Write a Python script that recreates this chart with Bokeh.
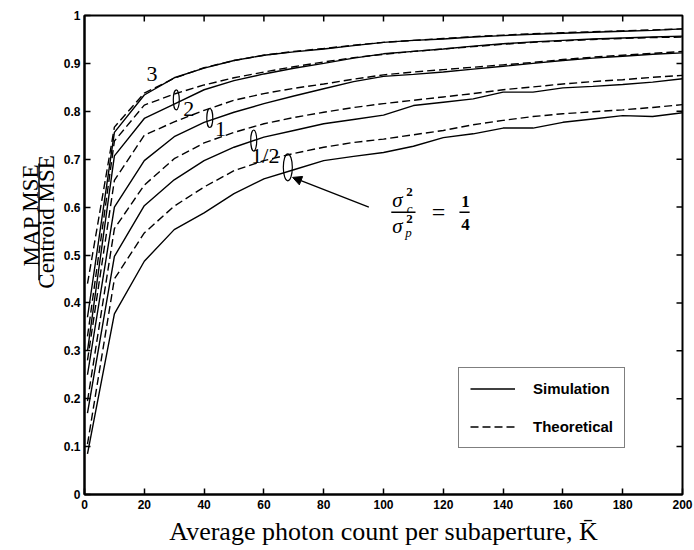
from bokeh.plotting import figure
from bokeh.layouts import row
from bokeh.models import (Label, Legend, LegendItem, FixedTicker, NumeralTickFormatter,
                          Arrow, NormalHead, Range1d)
from bokeh.embed import file_html
from bokeh.resources import INLINE

# ---------------- data ----------------
K = [1, 10, 20, 30, 40, 50, 60, 70, 80, 90, 100, 110, 120, 130, 140, 150, 160, 170, 180, 190, 200]

sim_quarter = [0.085, 0.377, 0.487, 0.553, 0.588, 0.628, 0.659, 0.678, 0.697, 0.706, 0.714,
               0.727, 0.745, 0.753, 0.765, 0.765, 0.777, 0.784, 0.791, 0.789, 0.797]
th_quarter = [0.105, 0.450, 0.546, 0.602, 0.642, 0.676, 0.697, 0.712, 0.725, 0.735, 0.742,
              0.751, 0.760, 0.772, 0.781, 0.789, 0.795, 0.799, 0.803, 0.808, 0.814]
sim_half = [0.170, 0.497, 0.603, 0.657, 0.697, 0.725, 0.746, 0.760, 0.774, 0.783, 0.792,
            0.812, 0.819, 0.826, 0.840, 0.840, 0.849, 0.852, 0.856, 0.861, 0.868]
th_half = [0.195, 0.555, 0.646, 0.701, 0.734, 0.756, 0.774, 0.787, 0.798, 0.808, 0.816,
           0.823, 0.830, 0.837, 0.845, 0.851, 0.857, 0.862, 0.866, 0.871, 0.875]
sim_one = [0.250, 0.600, 0.697, 0.747, 0.777, 0.798, 0.816, 0.832, 0.847, 0.862, 0.873,
           0.877, 0.882, 0.888, 0.894, 0.900, 0.906, 0.911, 0.915, 0.919, 0.922]
th_one = [0.280, 0.656, 0.750, 0.778, 0.802, 0.823, 0.837, 0.848, 0.857, 0.867, 0.876,
          0.882, 0.887, 0.892, 0.897, 0.902, 0.908, 0.913, 0.917, 0.921, 0.925]
sim_two = [0.300, 0.707, 0.785, 0.815, 0.845, 0.864, 0.878, 0.890, 0.900, 0.911, 0.920,
           0.925, 0.930, 0.936, 0.941, 0.945, 0.948, 0.951, 0.953, 0.955, 0.957]
th_two = [0.330, 0.738, 0.813, 0.836, 0.855, 0.870, 0.882, 0.893, 0.903, 0.912, 0.919,
          0.925, 0.930, 0.935, 0.940, 0.944, 0.947, 0.950, 0.952, 0.954, 0.955]
sim_three = [0.370, 0.756, 0.834, 0.870, 0.890, 0.906, 0.917, 0.924, 0.930, 0.937, 0.944,
             0.948, 0.951, 0.955, 0.958, 0.961, 0.963, 0.965, 0.967, 0.969, 0.972]
th_three = [0.440, 0.767, 0.838, 0.869, 0.891, 0.906, 0.917, 0.925, 0.931, 0.938, 0.944,
            0.948, 0.952, 0.956, 0.959, 0.962, 0.964, 0.966, 0.968, 0.970, 0.972]

x_ticks = [0, 20, 40, 60, 80, 100, 120, 140, 160, 180, 200]
y_ticks = [0, 0.1, 0.2, 0.3, 0.4, 0.5, 0.6, 0.7, 0.8, 0.9, 1.0]
x_inner_ticks = [20, 40, 60, 80, 100, 120, 140, 160, 180]
y_inner_ticks = [0.1, 0.2, 0.3, 0.4, 0.5, 0.6, 0.7, 0.8, 0.9]

ratio_labels = ["3", "2", "1", "1/2"]
y_label_num = "MAP MSE"
y_label_den = "Centroid MSE"

SERIF = "Liberation Serif"
SANS = "Liberation Sans"
LABEL_W = 60

# ---------------- y-axis label panel (fraction) ----------------
ylab = figure(width=LABEL_W, height=550, x_range=Range1d(0, LABEL_W), y_range=Range1d(550, 0),
              output_backend="svg", toolbar_location=None,
              x_axis_location=None, y_axis_location=None,
              min_border_left=0, min_border_right=0, min_border_top=0, min_border_bottom=0)
ylab.xgrid.visible = False
ylab.ygrid.visible = False
ylab.outline_line_color = None
ylab.background_fill_color = "white"
ylab.border_fill_color = "white"
ylab.add_layout(Label(x=30.5, y=229, text=y_label_num, angle=1.5708, text_font=SERIF,
                      text_font_size="23px", text_align="center", text_baseline="middle",
                      text_color="black"))
ylab.add_layout(Label(x=46, y=237, text=y_label_den, angle=1.5708, text_font=SERIF,
                      text_font_size="23px", text_align="center", text_baseline="middle",
                      text_color="black"))
ylab.segment(x0=[38.5], y0=[170], x1=[38.5], y1=[304], line_color="black", line_width=1.5)

# ---------------- main figure ----------------
p = figure(width=694 - LABEL_W, height=550, x_range=Range1d(0, 200), y_range=Range1d(0, 1),
           output_backend="svg", toolbar_location=None,
           min_border_left=84 - LABEL_W, min_border_right=12, min_border_top=15,
           min_border_bottom=56)
p.xgrid.visible = False
p.ygrid.visible = False
p.outline_line_color = "black"
p.outline_line_width = 2
p.background_fill_color = "white"
p.border_fill_color = "white"

xax = p.below[0]
yax = p.left[0]
xax.ticker = FixedTicker(ticks=x_ticks)
yax.ticker = FixedTicker(ticks=y_ticks)
yax.formatter = NumeralTickFormatter(format="0.[0]")

for ax in [xax, yax]:
    ax.axis_line_color = "black"
    ax.axis_line_width = 2
    ax.major_tick_in = 6
    ax.major_tick_out = 0
    ax.major_tick_line_color = "black"
    ax.major_tick_line_width = 1.5
    ax.minor_tick_line_color = None
    ax.major_label_text_font = SANS
    ax.major_label_text_font_style = "bold"
    ax.major_label_text_font_size = "12px"
    ax.major_label_text_color = "black"

yax.major_label_standoff = 4
xax.major_label_standoff = 5
xax.axis_label = "Average photon count per subaperture, K\u0304"
xax.axis_label_text_font = SERIF
xax.axis_label_text_font_style = "normal"
xax.axis_label_text_font_size = "26px"
xax.axis_label_standoff = 5
xax.axis_label_text_color = "black"

# inward ticks on the top and right frame edges
p.scatter(x=x_inner_ticks, y=[1] * len(x_inner_ticks), marker="dash", angle=1.5708, size=12,
          line_color="black", line_width=1.5)
p.scatter(x=[200] * len(y_inner_ticks), y=y_inner_ticks, marker="dash", size=12,
          line_color="black", line_width=1.5)

# ---------------- curves ----------------
LW = 1.4
DASH = "8 4"
pairs = [(sim_quarter, th_quarter), (sim_half, th_half), (sim_one, th_one),
         (sim_two, th_two), (sim_three, th_three)]
sim_r = th_r = None
for s, t in pairs:
    rt = p.line(K, t, line_color="black", line_width=LW, line_dash=DASH)
    rs = p.line(K, s, line_color="black", line_width=LW)
    sim_r = sim_r or rs
    th_r = th_r or rt

legend = Legend(items=[LegendItem(label="Simulation", renderers=[sim_r]),
                       LegendItem(label="Theoretical", renderers=[th_r])],
                location=(374, 46))
legend.border_line_color = "black"
legend.border_line_width = 1
legend.background_fill_color = "white"
legend.background_fill_alpha = 1
legend.label_text_font = SANS
legend.label_text_font_size = "15px"
legend.label_text_font_style = "bold"
legend.label_text_color = "black"
legend.glyph_width = 45
legend.glyph_height = 19
legend.label_height = 19
legend.label_standoff = 18
legend.spacing = 19
legend.padding = 11
legend.margin = 0
p.add_layout(legend, "center")

# ---------------- curve annotations ----------------
label_pos = [(22.6, 0.878), (34.9, 0.805), (45.5, 0.763), (60.5, 0.708)]
for txt, (lx, ly) in zip(ratio_labels, label_pos):
    p.add_layout(Label(x=lx, y=ly, text=txt, text_font=SERIF, text_font_size="22px",
                       text_align="center", text_baseline="middle", text_color="black"))

ell_x = [30.7, 41.9, 56.6, 68.0]
ell_y = [0.824, 0.786, 0.739, 0.683]
ell_w = [6, 6, 6, 9]
ell_h = [20, 19, 21, 27]
p.ellipse(x=ell_x, y=ell_y, width=ell_w, height=ell_h, width_units="screen",
          height_units="screen", fill_color=None, line_color="black", line_width=1.2)

p.add_layout(Arrow(x_start=95.1, y_start=0.600, x_end=69.6, y_end=0.662,
                   line_color="black", line_width=1.3,
                   end=NormalHead(size=9, fill_color="black", line_color="black")))

# sigma_c^2 / sigma_p^2 = 1/4
ax0, ay0 = 106.7, 0.589
def piece(txt, dx, dy, size, style="normal"):
    p.add_layout(Label(x=ax0, y=ay0, x_offset=dx, y_offset=dy, text=txt, text_font=SERIF,
                       text_font_size=size, text_font_style=style, text_align="center",
                       text_baseline="middle", text_color="black"))

piece("\u03c3", -6, 12, "21px", "italic")
piece("2", 6, 20, "13px", "bold")
piece("c", 6, 4, "13px", "italic")
piece("\u03c3", -6, -14, "21px", "italic")
piece("2", 6, -7, "13px", "bold")
piece("p", 5, -20, "13px", "italic")
piece("=", 35, 0, "24px")
piece("1", 62, 11, "17px", "bold")
piece("4", 62, -12, "17px", "bold")
p.segment(x0=[102.6, 125.4], y0=[ay0, ay0], x1=[110.7, 128.8], y1=[ay0, ay0],
          line_color="black", line_width=1.5)

layout = row(ylab, p, spacing=0)
open("out.html", "w").write(file_html(layout, INLINE))
